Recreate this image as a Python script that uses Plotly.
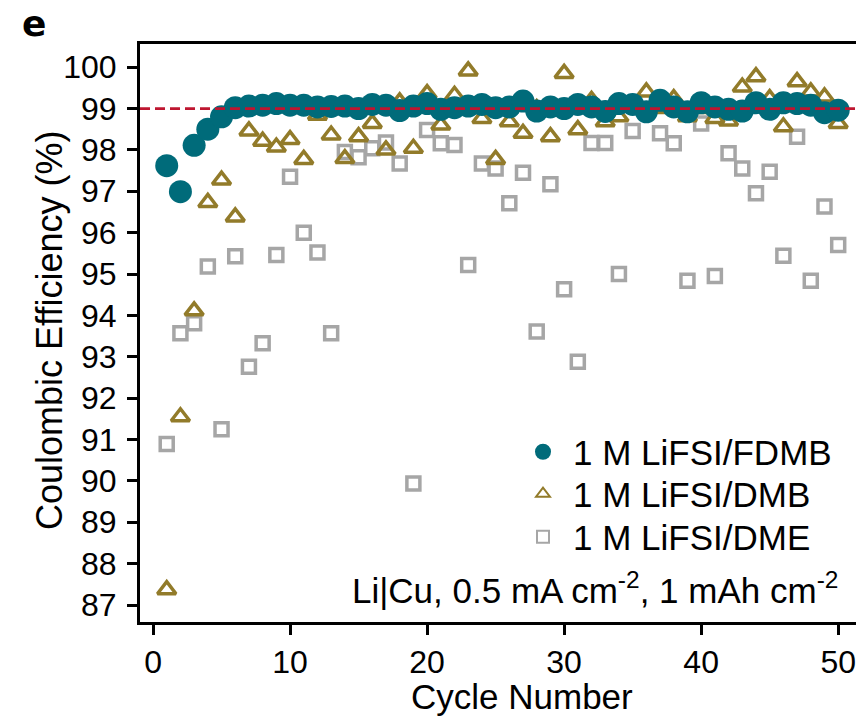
import plotly.graph_objects as go

cycles = list(range(1, 51))

fdmb = [97.62, 96.99, 98.11, 98.50, 98.80, 99.02, 99.06, 99.08, 99.12, 99.08,
        99.08, 99.04, 99.05, 99.06, 99.00, 99.10, 99.08, 98.95, 99.06, 99.12,
        98.98, 99.02, 99.06, 99.10, 99.02, 99.04, 99.18, 98.94, 99.04, 99.00,
        99.10, 99.04, 98.93, 99.12, 99.10, 98.92, 99.20, 99.04, 98.92, 99.14,
        99.04, 98.98, 98.94, 99.14, 98.98, 99.14, 99.12, 99.08, 98.90, 98.96]

dmb = [87.37, 91.55, 94.11, 96.73, 97.27, 96.38, 98.46, 98.21, 98.07, 98.25,
       97.77, 98.84, 98.36, 97.79, 98.32, 98.64, 98.00, 99.16, 98.04, 99.36,
       98.60, 99.32, 99.91, 98.76, 97.77, 98.68, 98.40, 99.00, 98.32, 99.85,
       98.49, 99.20, 98.68, 98.80, 99.05, 99.40, 99.00, 99.24, 98.80, 99.00,
       98.76, 98.70, 99.52, 99.77, 99.24, 98.56, 99.65, 99.40, 99.28, 98.64]

dme = [90.89, 93.57, 93.81, 95.18, 91.25, 95.43, 92.76, 93.33, 95.46, 97.35,
       96.00, 95.52, 93.57, 97.95, 97.82, 98.04, 98.18, 97.67, 89.94, 98.48,
       98.16, 98.12, 95.22, 97.67, 97.55, 96.71, 97.45, 93.61, 97.17, 94.63,
       92.88, 98.17, 98.17, 95.00, 98.46, 98.95, 98.40, 98.16, 94.84, 98.64,
       94.95, 97.92, 97.55, 96.95, 97.47, 95.44, 98.32, 94.84, 96.63, 95.70]

names = ["1 M LiFSI/FDMB", "1 M LiFSI/DMB", "1 M LiFSI/DME"]
x_ticks = [0, 10, 20, 30, 40, 50]
y_ticks = list(range(87, 101))
ref_line = 99

TEAL = "#006B7A"
OLIVE = "#927B2A"
GREY = "#A6A6A6"
RED = "#BE1630"
FONT = "Liberation Sans, Arial, sans-serif"

fig = go.Figure()
fig.add_trace(go.Scatter(
    x=cycles, y=dme, mode="markers", name=names[2], legend="legend3",
    marker=dict(symbol="square-open", size=13, color=GREY, line=dict(width=3.5, color=GREY)),
))
fig.add_trace(go.Scatter(
    x=cycles, y=dmb, mode="markers", name=names[1], legend="legend2",
    marker=dict(symbol="triangle-up-open", size=16, color=OLIVE, line=dict(width=3.5, color=OLIVE)),
))
fig.add_trace(go.Scatter(
    x=cycles, y=fdmb, mode="markers", name=names[0], legend="legend",
    marker=dict(symbol="circle", size=23, color=TEAL, line=dict(width=0)),
))

fig.add_shape(type="line", xref="paper", x0=0, x1=1, yref="y", y0=ref_line, y1=ref_line,
              line=dict(color=RED, width=2.7, dash="10px,5px"), layer="above")

H0, H1 = 44, 622
W0, W1 = 140, 856
PW, PH = W1 - W0, H1 - H0


def px_x(px):
    return (px - W0) / PW


def px_y(py):
    return (H1 - py) / PH


def legend_box(row_y, sizing):
    return dict(
        x=px_x(513), xanchor="left", y=px_y(row_y), yanchor="middle",
        bgcolor="rgba(0,0,0,0)", font=dict(size=35, family=FONT, color="black"),
        itemwidth=50, itemsizing=sizing, borderwidth=0,
    )


fig.update_layout(
    width=856, height=721,
    margin=dict(l=W0, r=0, t=H0, b=721 - H1),
    paper_bgcolor="white", plot_bgcolor="white",
    font=dict(family=FONT, size=32, color="black"),
    showlegend=True,
    legend=legend_box(452, "trace"),
    legend2=legend_box(494, "constant"),
    legend3=legend_box(537, "constant"),
    xaxis=dict(
        range=[-0.95, 51.3], tickvals=x_ticks, ticks="outside", ticklen=10, tickwidth=3,
        tickcolor="black", showline=True, linewidth=3, linecolor="black", mirror=True,
        showgrid=False, zeroline=False, tickfont=dict(size=32),
    ),
    yaxis=dict(
        range=[86.59, 100.56], tickvals=y_ticks, ticks="outside", ticklen=10, tickwidth=3,
        tickcolor="black", showline=True, linewidth=3, linecolor="black", mirror=False,
        showgrid=False, zeroline=False, tickfont=dict(size=32), ticklabelstandoff=4,
    ),
    annotations=[
        dict(text="Cycle Number", xref="paper", yref="paper", x=px_x(522), y=px_y(697),
             xanchor="center", yanchor="middle", showarrow=False, font=dict(size=35, family=FONT)),
        dict(text="Coulombic Efficiency (%)", xref="paper", yref="paper", x=px_x(50), y=px_y(331),
             xanchor="center", yanchor="middle", textangle=-90, showarrow=False,
             font=dict(size=36, family=FONT)),
        dict(text="Li|Cu, 0.5 mA cm<sup>-2</sup>, 1 mAh cm<sup>-2</sup>", xref="paper", yref="paper",
             x=px_x(840), y=px_y(588), xanchor="right", yanchor="middle",
             showarrow=False, font=dict(size=35, family=FONT)),
        dict(text="<b>e</b>", xref="paper", yref="paper", x=px_x(20), y=px_y(24),
             xanchor="left", yanchor="middle", showarrow=False,
             font=dict(size=36, family="DejaVu Sans, sans-serif")),
    ],
)

fig.write_html("out.html")
